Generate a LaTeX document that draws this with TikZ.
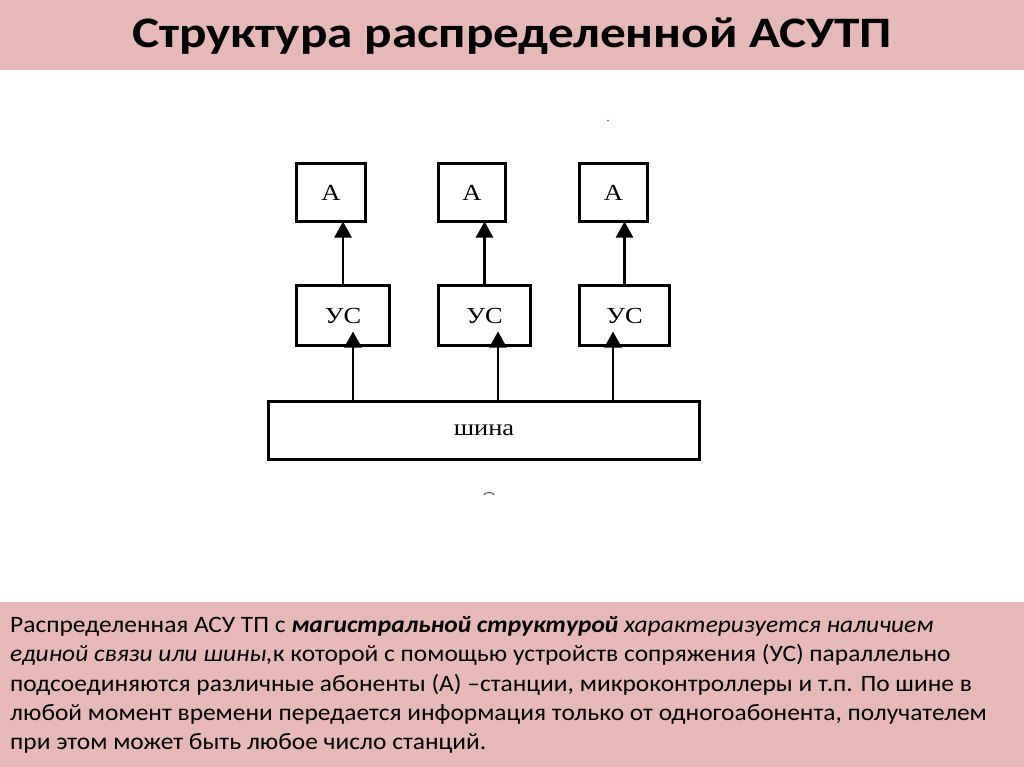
\documentclass[tikz,border=0pt]{standalone}
\usepackage{fontspec}
\setmainfont{Carlito}
\newfontfamily\diagfont{Liberation Serif}
\usetikzlibrary{arrows.meta}
\definecolor{pinkbar}{RGB}{230,185,184}
\tikzset{
  blk/.style={draw=black, line width=3pt, inner sep=0pt, outer sep=0pt, font=\diagfont\fontsize{23}{26}\selectfont},
  arr/.style={line width=2.5pt, -{Triangle[length=16pt,width=17pt]}},
  txt/.style={anchor=base west, inner sep=0pt, xscale=1.082, font=\fontsize{23.5}{26}\selectfont},
}
\newcommand{\widetxt}[1]{\scalebox{1.15}[1]{#1}}
\begin{document}
\begin{tikzpicture}[x=1pt,y=-1pt]
\useasboundingbox (0,0) rectangle (1024,767);
\fill[white] (0,0) rectangle (1024,767);
% title bar
\fill[pinkbar] (0,0) rectangle (1024,70);
\node[anchor=base, inner sep=0pt, xscale=1.178, font=\bfseries\fontsize{43.5}{50}\selectfont] (title) at (512,48) {Структура распределенной АСУТП};
% bottom box
\fill[pinkbar] (0,602) rectangle (1024,767);
% diagram
\node[blk, minimum width=69pt, minimum height=58pt] (a1) at (331,192.5) {\widetxt{А}};
\node[blk, minimum width=67pt, minimum height=58pt] (a2) at (472,192.5) {\widetxt{А}};
\node[blk, minimum width=68pt, minimum height=58pt] (a3) at (613.5,192.5) {\widetxt{А}};
\node[blk, minimum width=93pt, minimum height=60pt] (us1) at (343,315.5) {\widetxt{УС}};
\node[blk, minimum width=92pt, minimum height=60pt] (us2) at (484.5,315.5) {\widetxt{УС}};
\node[blk, minimum width=90pt, minimum height=60pt] (us3) at (624.5,315.5) {\widetxt{УС}};
\node[blk, minimum width=431pt, minimum height=58pt] (bus) at (484,430.5) {\widetxt{шина}};
% arrows УС -> А
\draw[arr] (us1.north) -- (a1.south -| us1.north);
\draw[arr] (us2.north) -- (a2.south -| us2.north);
\draw[arr] (us3.north) -- (a3.south -| us3.north);
% arrows bus -> УС
\draw[arr, shorten >=-14pt] (bus.north -| 353,0) -- (us1.south -| 353,0);
\draw[arr, shorten >=-14pt] (bus.north -| 498,0) -- (us2.south -| 498,0);
\draw[arr, shorten >=-14pt] (bus.north -| 613,0) -- (us3.south -| 613,0);
% small marks
\fill[black!60] (608,120.5) circle (0.9pt);
\draw[black!70, line width=1pt] (484,495) arc (180:0:5pt and 2.5pt);
% text
\node[txt] (l1) at (10,632) {Распределенная АСУ ТП с \textbf{\textit{магистральной структурой}} \textit{характеризуется наличием}};
\node[txt] (l2) at (10,661.5) {\textit{единой связи или шины,}к которой с помощью устройств сопряжения (УС) параллельно};
\node[txt] (l3) at (10,691) {подсоединяются различные абоненты (А) –станции, микроконтроллеры и т.п. По шине в};
\node[txt] (l4) at (10,720) {любой момент времени передается информация только от одногоабонента, получателем};
\node[txt] (l5) at (10,749) {при этом может быть любое число станций.};
\end{tikzpicture}
\end{document}
